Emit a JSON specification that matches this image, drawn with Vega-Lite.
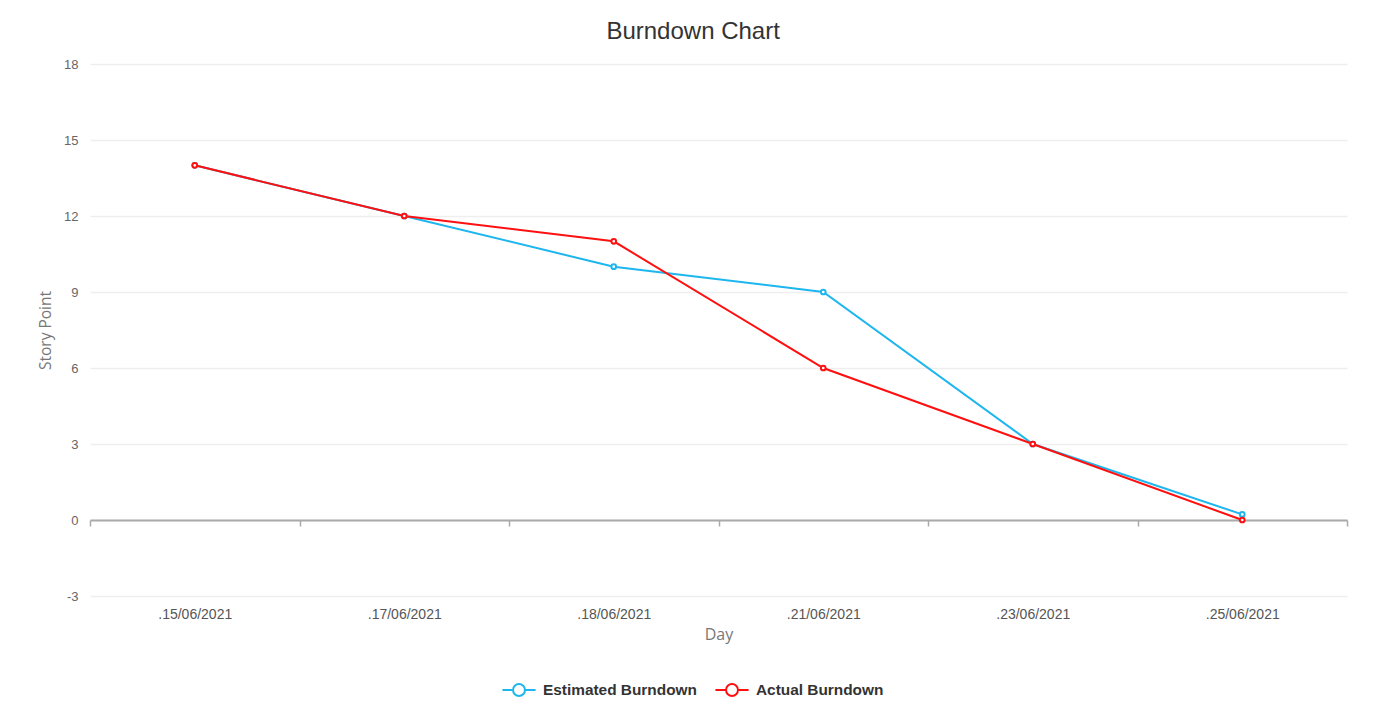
{
  "$schema": "https://vega.github.io/schema/vega-lite/v6.json",
  "width": 1257,
  "height": 532,
  "padding": {"left": 38, "top": 20, "right": 10, "bottom": 10},
  "autosize": {"type": "pad"},
  "background": "white",
  "title": {"text": "Burndown Chart", "fontSize": 24, "font": "Liberation Sans", "fontWeight": "normal", "color": "#333333", "offset": 14, "frame": "bounds", "anchor": "middle"},
  "config": {"view": {"stroke": null}},
  "data": {"values": [
    {"day": ".15/06/2021", "series": "Estimated Burndown", "points": 14},
    {"day": ".17/06/2021", "series": "Estimated Burndown", "points": 12},
    {"day": ".18/06/2021", "series": "Estimated Burndown", "points": 10},
    {"day": ".21/06/2021", "series": "Estimated Burndown", "points": 9},
    {"day": ".23/06/2021", "series": "Estimated Burndown", "points": 3},
    {"day": ".25/06/2021", "series": "Estimated Burndown", "points": 0.22},
    {"day": ".15/06/2021", "series": "Actual Burndown", "points": 14},
    {"day": ".17/06/2021", "series": "Actual Burndown", "points": 12},
    {"day": ".18/06/2021", "series": "Actual Burndown", "points": 11},
    {"day": ".21/06/2021", "series": "Actual Burndown", "points": 6},
    {"day": ".23/06/2021", "series": "Actual Burndown", "points": 3},
    {"day": ".25/06/2021", "series": "Actual Burndown", "points": 0}
  ]},
  "mark": {"type": "line", "strokeWidth": 2, "point": {"filled": false, "fill": "white", "size": 22, "strokeWidth": 2}},
  "encoding": {
    "x": {
      "field": "day", "type": "nominal", "sort": null, "bandPosition": 0.5,
      "scale": {"type": "band", "paddingInner": 0, "paddingOuter": 0},
      "axis": {
        "title": "Day", "offset": -76, "tickBand": "extent", "grid": false,
        "domainColor": "#aaaaaa", "domainWidth": 2, "tickColor": "#aaaaaa", "tickWidth": 1.5, "tickSize": 6,
        "labelPadding": 81, "labelAngle": 0, "labelColor": "#555555", "labelFontSize": 14, "labelFont": "Liberation Sans",
        "titlePadding": 5, "titleColor": "#777777", "titleFontSize": 16, "titleFontWeight": "normal", "titleFont": "Open Sans"
      }
    },
    "y": {
      "field": "points", "type": "quantitative",
      "scale": {"domain": [-3, 18], "nice": false, "zero": false},
      "axis": {
        "title": "Story Point", "values": [-3, 0, 3, 6, 9, 12, 15, 18], "domain": false, "ticks": false,
        "labelExpr": "'' + datum.value",
        "labelPadding": 12, "labelColor": "#666666", "labelFontSize": 13, "labelFont": "Liberation Sans",
        "gridColor": "#eeeeee", "gridWidth": 1.5,
        "titlePadding": 10, "titleColor": "#777777", "titleFontSize": 15.5, "titleFontWeight": "normal", "titleFont": "Open Sans"
      }
    },
    "color": {
      "field": "series", "type": "nominal",
      "scale": {"domain": ["Estimated Burndown", "Actual Burndown"], "range": ["#1db6ee", "#ff1010"]},
      "legend": {
        "orient": "none", "legendX": 411, "legendY": 608, "direction": "horizontal", "title": null,
        "symbolType": "M-1,0H-0.36M0.36,0H1M0.36,0A0.36,0.36 0 1 1 -0.36,0A0.36,0.36 0 1 1 0.36,0Z",
        "symbolSize": 1100, "symbolStrokeWidth": 2, "symbolFillColor": "white",
        "labelFontSize": 15.4, "labelFontWeight": "bold", "labelColor": "#333333", "labelFont": "Liberation Sans",
        "columnPadding": 14, "labelOffset": 6
      }
    }
  }
}
